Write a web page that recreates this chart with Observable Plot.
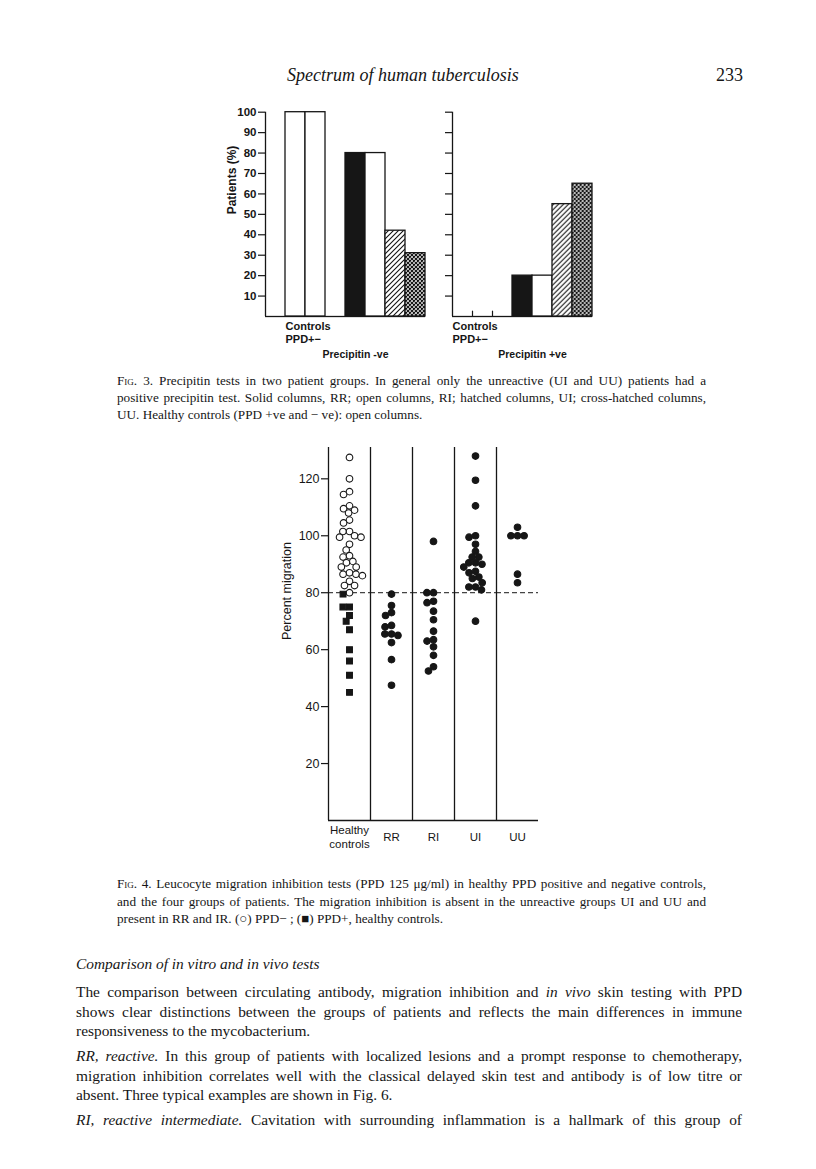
<!DOCTYPE html>
<html><head><meta charset="utf-8">
<script src="https://cdn.jsdelivr.net/npm/d3@7"></script>
<script src="https://cdn.jsdelivr.net/npm/@observablehq/plot@0.6"></script>
<style>
html,body{margin:0;padding:0;background:#fff;}
#page{position:relative;width:816px;height:1169px;overflow:hidden;background:#fff;color:#161616;font-family:"Liberation Serif","Times New Roman",serif;}
.ln{position:absolute;white-space:nowrap;line-height:20px;}
.cap{font-size:13.2px;left:117px;}
.body{font-size:15.4px;left:76px;}
.sc{font-variant:small-caps;}
.fig{position:absolute;}
</style></head><body>
<svg width="0" height="0" style="position:absolute">
 <defs>
  <pattern id="hatch" patternUnits="userSpaceOnUse" width="5" height="5">
    <rect width="5" height="5" fill="#fff"/>
    <path d="M-1,1 L1,-1 M0,5 L5,0 M4,6 L6,4" stroke="#111" stroke-width="1.1"/>
  </pattern>
  <pattern id="xhatch" patternUnits="userSpaceOnUse" width="4" height="4">
    <rect width="4" height="4" fill="#fff"/>
    <path d="M-1,1 L1,-1 M0,4 L4,0 M3,5 L5,3 M-1,3 L1,5 M0,0 L4,4 M3,-1 L5,1" stroke="#111" stroke-width="1.2"/>
  </pattern>
 </defs>
</svg>
<div id="page">
  <div class="ln" style="left:287px;top:65px;font-size:18px;font-style:italic;">Spectrum of human tuberculosis</div>
  <div class="ln" style="left:716px;top:65px;font-size:18px;">233</div>

  <div id="fig3a" class="fig" style="left:0;top:95px;"></div>
  <div id="fig3b" class="fig" style="left:440px;top:95px;"></div>

  <div class="ln cap fit" data-w="589" style="top:371px;"><span class="sc">Fig</span>. 3. Precipitin tests in two patient groups. In general only the unreactive (UI and UU) patients had a</div>
  <div class="ln cap fit" data-w="589" style="top:388px;">positive precipitin test. Solid columns, RR; open columns, RI; hatched columns, UI; cross-hatched columns,</div>
  <div class="ln cap" style="top:405px;">UU. Healthy controls (PPD +ve and − ve): open columns.</div>

  <div id="fig4" class="fig" style="left:0;top:437px;"></div>

  <div class="ln cap fit" data-w="589" style="top:874px;"><span class="sc">Fig</span>. 4. Leucocyte migration inhibition tests (PPD 125 μg/ml) in healthy PPD positive and negative controls,</div>
  <div class="ln cap fit" data-w="589" style="top:892px;">and the four groups of patients. The migration inhibition is absent in the unreactive groups UI and UU and</div>
  <div class="ln cap" style="top:909px;">present in RR and IR. (○) PPD− ; (■) PPD+, healthy controls.</div>

  <div class="ln body" style="top:954px;font-style:italic;">Comparison of in vitro and in vivo tests</div>
  <div class="ln body fit" data-w="666" style="top:982px;">The comparison between circulating antibody, migration inhibition and <i>in vivo</i> skin testing with PPD</div>
  <div class="ln body fit" data-w="666" style="top:1002px;">shows clear distinctions between the groups of patients and reflects the main differences in immune</div>
  <div class="ln body" style="top:1021px;">responsiveness to the mycobacterium.</div>
  <div class="ln body fit" data-w="666" style="top:1046px;"><i>RR, reactive.</i> In this group of patients with localized lesions and a prompt response to chemotherapy,</div>
  <div class="ln body fit" data-w="666" style="top:1066px;">migration inhibition correlates well with the classical delayed skin test and antibody is of low titre or</div>
  <div class="ln body" style="top:1085px;">absent. Three typical examples are shown in Fig. 6.</div>
  <div class="ln body fit" data-w="666" style="top:1110px;"><i>RI, reactive intermediate.</i> Cavitation with surrounding inflammation is a hallmark of this group of</div>
</div>
<script>
// ---------- Fig. 3 data ----------
const fig3Groups = ["Controls PPD+", "Controls PPD−", "RR", "RI", "UI", "UU"];
const precipitinNeg = [100, 100, 80, 80, 42, 31];
const precipitinPos = [0, 0, 20, 20, 55, 65];
const fig3Ticks = [10, 20, 30, 40, 50, 60, 70, 80, 90, 100];
const fig3YLabel = "Patients (%)";
const fig3ControlsLabel = "Controls\nPPD+−";
const fig3Titles = ["Precipitin -ve", "Precipitin +ve"];

// ---------- Fig. 4 data ----------
const fig4Groups = ["Healthy\ncontrols", "RR", "RI", "UI", "UU"];
const controlsPPDneg = [127.5, 120, 115.5, 114.5, 110.5, 109.5, 109, 108, 105.5, 104.5, 101.5, 101.5, 100, 99.5, 99.5, 97, 95, 93, 92.5, 91, 90.5, 89, 89, 87, 86.5, 86.5, 86, 84, 82.5, 82.5, 80];
const controlsPPDpos = [79.5, 75, 75, 72, 70, 67, 60, 56, 51, 45];
const groupRR = [79.5, 75.5, 73, 72, 68.5, 68, 65.5, 65.5, 65, 62.5, 56.5, 47.5];
const groupRI = [98, 80, 80, 77, 76.5, 73.5, 70.5, 66.5, 63.5, 63, 61, 58, 54, 52.5];
const groupUI = [128, 119.5, 110.5, 100, 99.5, 97, 94.5, 92.5, 92.5, 90.5, 90.5, 90, 89, 87.5, 87, 85.5, 85, 83.5, 82, 82, 81, 70];
const groupUU = [103, 100, 100, 100, 86.5, 83.5];
const fig4Ticks = [20, 40, 60, 80, 100, 120];
const fig4YLabel = "Percent migration";
const fig4Cutoff = [80];

const INK = "#161616";
const SANS = "'Liberation Sans', Arial, Helvetica, sans-serif";
const NARROW = "'Liberation Sans Narrow', 'Arial Narrow', 'Liberation Sans', Arial, sans-serif";
const fills = {"Controls PPD+": "white", "Controls PPD−": "white", "RR": INK, "RI": "white", "UI": "url(#hatch)", "UU": "url(#xhatch)"};

function fig3(values, o) {
  const data = fig3Groups.map((g, i) => ({group: g, value: values[i]}));
  const domain = o.leadGap
    ? ["gap0", fig3Groups[0], fig3Groups[1], "gap1", ...fig3Groups.slice(2)]
    : [fig3Groups[0], fig3Groups[1], "gap1", ...fig3Groups.slice(2)];
  return Plot.plot({
    width: o.width, height: 275,
    marginLeft: o.ml, marginRight: o.mr, marginTop: 16.7, marginBottom: 54,
    fx: {domain, padding: 0, axis: null},
    x: {domain: [0, 1], axis: null},
    y: {domain: [0, 100]},
    color: {type: "identity"},
    style: {fontFamily: SANS, fontSize: "11px", fontWeight: "bold", color: INK, background: "transparent", overflow: "visible"},
    marks: [
      Plot.ruleY(domain, {fx: d => d, y: 0, stroke: INK, strokeWidth: 1.3}),
      Plot.ruleX([0], {fx: () => domain[0], x: d => d, y1: 0, y2: 100, stroke: INK, strokeWidth: 1.3}),
      Plot.axisY({ticks: fig3Ticks, tickSize: 7, tickPadding: 2, label: null,
        tickFormat: o.labels ? (d => String(d)) : (() => ""),
        fontFamily: NARROW, fontSize: 11.5, fontWeight: "bold", stroke: INK, strokeWidth: 1.2}),
      Plot.rect(data.filter(d => d.value > 0), {fx: "group", y1: 0, y2: "value", fill: d => fills[d.group], stroke: INK, strokeWidth: 1.3}),
      Plot.ruleX(data.filter(d => d.value === 0), {fx: "group", x: () => 1, y1: 0, y2: 2.6, stroke: INK, strokeWidth: 1.2}),
      Plot.text([fig3ControlsLabel], {fx: () => fig3Groups[0], text: d => d, frameAnchor: "bottom-left", textAnchor: "start", lineAnchor: "top", dy: 4, fontSize: 11, lineHeight: 1.2, fill: INK}),
      Plot.text([o.title], {fx: () => "RR", text: d => d, frameAnchor: o.titleAnchor, textAnchor: "middle", dy: 41, fontSize: 10.5, fill: INK}),
      o.labels ? Plot.text([fig3YLabel], {fx: () => domain[0], text: d => d, frameAnchor: "left", rotate: -90, dx: -33, fontSize: 12, fill: INK}) : null
    ]
  });
}

document.getElementById("fig3a").append(fig3(precipitinNeg, {width: 440, ml: 261, mr: 12, leadGap: true, labels: true, title: fig3Titles[0], titleAnchor: "bottom"}));
document.getElementById("fig3b").append(fig3(precipitinPos, {width: 170, ml: 9.3, mr: 15, leadGap: false, labels: false, title: fig3Titles[1], titleAnchor: "bottom-right"}));

// ---------- Fig. 4 ----------
const pts = [
  ...controlsPPDneg.map(v => ({group: fig4Groups[0], kind: "PPD−", value: v})),
  ...controlsPPDpos.map(v => ({group: fig4Groups[0], kind: "PPD+", value: v})),
  ...groupRR.map(v => ({group: fig4Groups[1], kind: "patient", value: v})),
  ...groupRI.map(v => ({group: fig4Groups[2], kind: "patient", value: v})),
  ...groupUI.map(v => ({group: fig4Groups[3], kind: "patient", value: v})),
  ...groupUU.map(v => ({group: fig4Groups[4], kind: "patient", value: v}))
];

const fig4 = Plot.plot({
  width: 600, height: 428,
  marginLeft: 327, marginRight: 62, marginTop: 10, marginBottom: 45,
  fx: {domain: fig4Groups, padding: 0, axis: null},
  x: {domain: [0, 1], axis: null},
  y: {domain: [0, 131]},
  color: {type: "identity"},
  style: {fontFamily: SANS, fontSize: "11px", color: INK, background: "transparent", overflow: "visible"},
  marks: [
    Plot.ruleY([0], {stroke: INK, strokeWidth: 1.3}),
    Plot.ruleX([0], {stroke: INK, strokeWidth: 1.3}),
    Plot.ruleY(fig4Cutoff, {stroke: INK, strokeWidth: 1, strokeDasharray: "5,3"}),
    Plot.axisY({ticks: fig4Ticks, tickSize: 7, tickPadding: 2, label: null, tickFormat: d => String(d),
      fontFamily: NARROW, fontSize: 12.5, stroke: INK, strokeWidth: 1.2}),
    Plot.text([fig4YLabel], {fx: () => fig4Groups[0], text: d => d, frameAnchor: "left", rotate: -90, dx: -42, dy: 6, fontSize: 12.5, fill: INK}),
    Plot.dot(pts, Plot.dodgeX({anchor: "middle", padding: 0}, {
      fx: "group", y: "value", r: 3.3,
      symbol: d => d.kind === "PPD+" ? "square" : "circle",
      fill: d => d.kind === "PPD−" ? "white" : INK,
      stroke: INK, strokeWidth: 1.1
    })),
    Plot.text(fig4Groups, {fx: d => d, text: d => d, frameAnchor: "bottom", dy: 16, lineAnchor: "middle", fontSize: 11.5, lineHeight: 1.2, fill: INK})
  ]
});
document.getElementById("fig4").append(fig4);

// ---------- justify text lines ----------
document.querySelectorAll(".fit").forEach(el => {
  const target = +el.dataset.w;
  const w = el.getBoundingClientRect().width;
  const spaces = (el.textContent.match(/ /g) || []).length;
  if (spaces) el.style.wordSpacing = ((target - w) / spaces) + "px";
});
</script>
</body></html>
